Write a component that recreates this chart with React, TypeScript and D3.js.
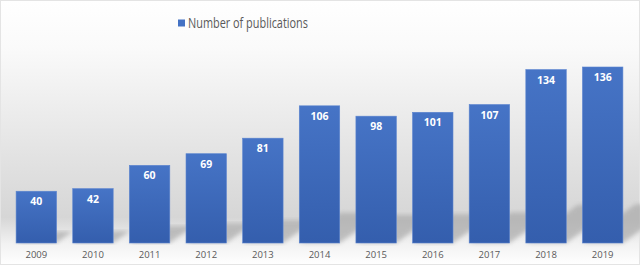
import React, { useEffect, useRef } from 'react';
import * as d3 from 'd3';

const years = ['2009', '2010', '2011', '2012', '2013', '2014', '2015', '2016', '2017', '2018', '2019'];
const publications = [40, 42, 60, 69, 81, 106, 98, 101, 107, 134, 136];
const seriesName = 'Number of publications';

const App: React.FC = () => {
  const svgRef = useRef<SVGSVGElement>(null);
  const width = 640;
  const height = 265;

  useEffect(() => {
    if (!svgRef.current) return;
    const svg = d3.select(svgRef.current);
    svg.selectAll('*').remove();

    const base = 243;
    const defs = svg.append('defs');

    // background: white top, grey floor, white bottom
    const bg = defs.append('linearGradient').attr('id', 'bg').attr('x1', 0).attr('y1', 0).attr('x2', 0).attr('y2', 1);
    bg.append('stop').attr('offset', '0%').attr('stop-color', '#ffffff');
    bg.append('stop').attr('offset', '18%').attr('stop-color', '#fafafa');
    bg.append('stop').attr('offset', '58%').attr('stop-color', '#e3e3e3');
    bg.append('stop').attr('offset', '82%').attr('stop-color', '#d6d6d6');
    bg.append('stop').attr('offset', '92%').attr('stop-color', '#f2f2f2');
    bg.append('stop').attr('offset', '100%').attr('stop-color', '#ffffff');

    const barGrad = defs.append('linearGradient').attr('id', 'bar').attr('x1', 0).attr('y1', 0).attr('x2', 0).attr('y2', 1);
    barGrad.append('stop').attr('offset', '0%').attr('stop-color', '#4674c6');
    barGrad.append('stop').attr('offset', '100%').attr('stop-color', '#345ead');

    defs.append('filter').attr('id', 'blur').append('feGaussianBlur').attr('stdDeviation', 2);

    svg.append('rect').attr('width', width).attr('height', height).attr('fill', 'url(#bg)');
    svg.append('rect').attr('x', 0.5).attr('y', 0.5).attr('width', width - 1).attr('height', height - 1)
      .attr('fill', 'none').attr('stroke', '#e4e4e4');

    const x = d3.scaleBand<string>()
      .domain(years)
      .range([8, 631])
      .paddingInner(0.286)
      .paddingOuter(0.143);

    const y = d3.scaleLinear()
      .domain([0, 136])
      .range([base, 67]);

    // shadows on the floor
    svg.append('g').selectAll('polygon')
      .data(publications)
      .join('polygon')
      .attr('points', (d, i) => {
        const x0 = x(years[i])!;
        const w = x.bandwidth();
        const h = base - y(d);
        const dx = h * 0.3, dy = h * 0.22;
        return [[x0, base], [x0 + w, base], [x0 + w + dx, base - dy], [x0 + dx, base - dy]].map(p => p.join(',')).join(' ');
      })
      .attr('fill', '#aaaaaa')
      .attr('opacity', 0.7)
      .attr('filter', 'url(#blur)');

    // bars
    svg.append('g').selectAll('rect')
      .data(publications)
      .join('rect')
      .attr('x', (d, i) => x(years[i])!)
      .attr('y', d => y(d))
      .attr('width', x.bandwidth())
      .attr('height', d => base - y(d))
      .attr('fill', 'url(#bar)')
      .attr('stroke', '#5b84cf')
      .attr('stroke-width', 0.6);

    // value labels
    svg.append('g').selectAll('text')
      .data(publications)
      .join('text')
      .attr('x', (d, i) => x(years[i])! + x.bandwidth() / 2)
      .attr('y', d => y(d) + 14)
      .attr('text-anchor', 'middle')
      .attr('fill', 'white')
      .attr('font-family', 'Open Sans, sans-serif')
      .attr('font-weight', 'bold')
      .attr('font-size', 10.5)
      .text(d => d);

    // x axis labels
    const xAxis = d3.axisBottom(x).tickSize(0).tickPadding(8);
    const gx = svg.append('g').attr('transform', `translate(0,${base})`).call(xAxis);
    gx.select('.domain').remove();
    gx.selectAll('text')
      .attr('fill', '#595959')
      .attr('font-family', 'Open Sans, sans-serif')
      .attr('font-size', 9.5);

    // legend
    const legend = svg.append('g').attr('transform', 'translate(178,18)');
    legend.append('rect').attr('width', 7).attr('height', 7).attr('y', 1.5).attr('fill', '#4472c4');
    legend.append('text').attr('x', 10).attr('y', 10)
      .attr('fill', '#595959')
      .attr('font-family', 'Open Sans, sans-serif')
      .attr('font-size', 14.5)
      .attr('textLength', 120)
      .attr('lengthAdjust', 'spacingAndGlyphs')
      .text(seriesName);
  }, []);

  return (
    <div style={{ position: 'absolute', left: 0, top: 0 }}>
      <svg ref={svgRef} width={width} height={height} style={{ display: 'block' }} />
    </div>
  );
};

export default App;
